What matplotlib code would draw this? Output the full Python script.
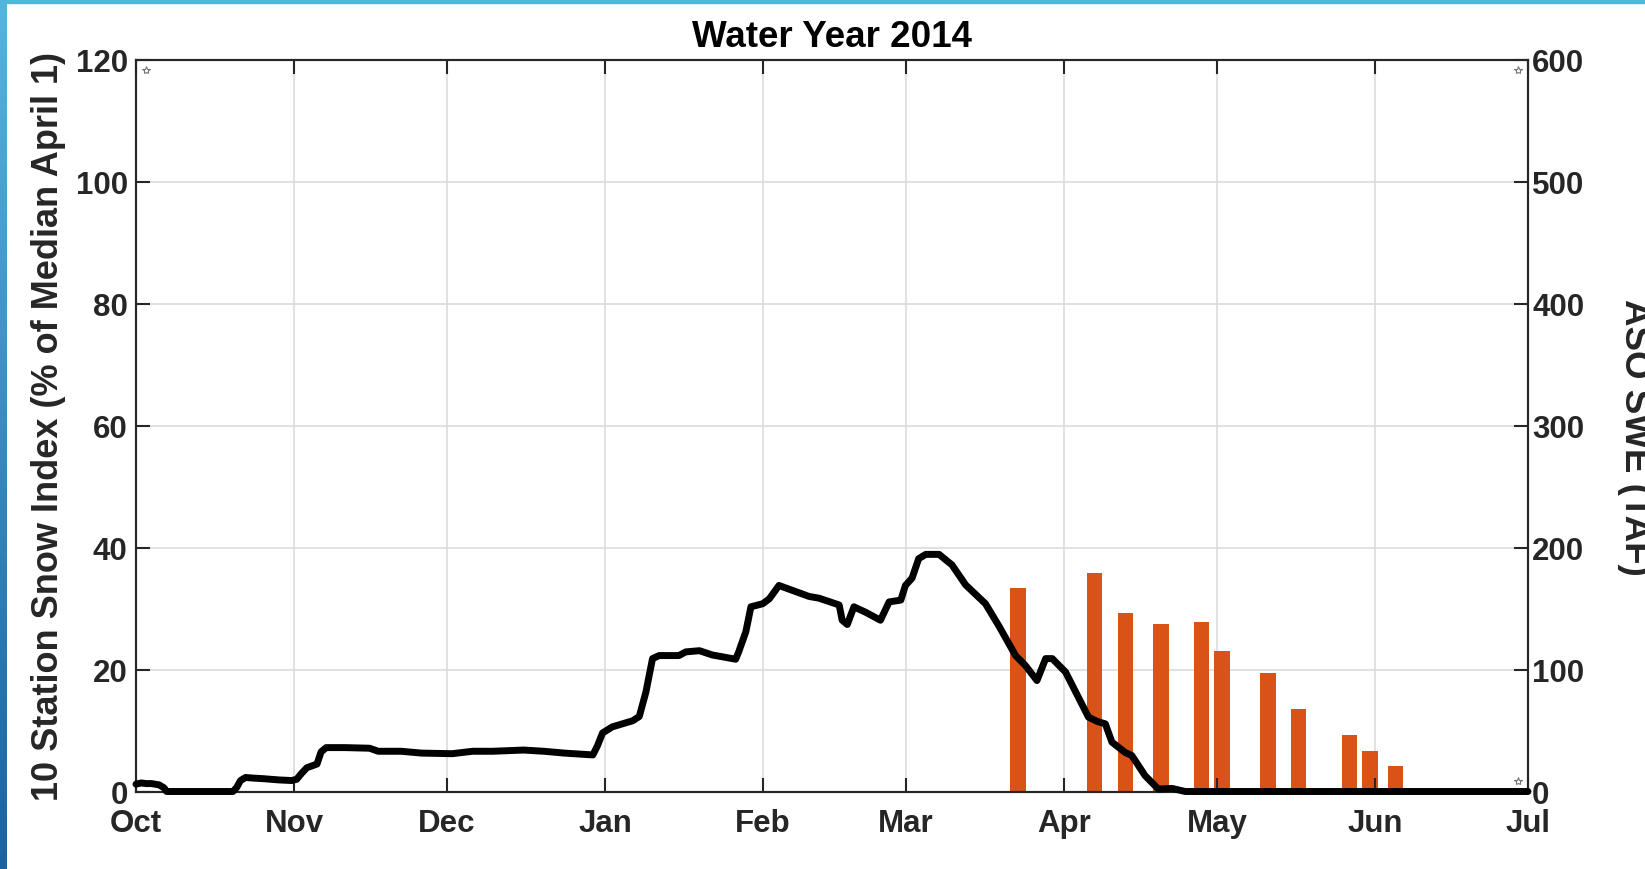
import numpy as np
import pandas as pd
import matplotlib
matplotlib.use("Agg")
import matplotlib.pyplot as plt

plt.rcParams["font.family"] = ["Liberation Sans", "DejaVu Sans"]
plt.rcParams["font.weight"] = "bold"
plt.rcParams["axes.labelweight"] = "bold"

# water year starts Oct 1 2013
WY_START = pd.Timestamp("2013-10-01")

# 10 station snow index (% of median April 1), day offset from Oct 1
idx_days = [0, 1, 2, 3, 4.5, 5.5, 6, 19, 19.7, 20.5, 21.5, 23, 25, 28, 30.5, 31.5,
            32.5, 33.5, 34.5, 35.5, 36.3, 37.3, 41, 45.8, 47.5, 52, 56, 62, 66, 70,
            76, 80, 84, 89.6, 90.5, 91.5, 93.4, 97.4, 98.7, 100, 101.3, 102.6, 106.5,
            107.8, 110.5, 113, 117.6, 118.2, 119.6, 120.6, 122.9, 124.2, 126.1, 127.4,
            132, 134, 137.9, 138.5, 139.5, 140.8, 143.1, 146, 147.7, 150, 150.9, 152.2,
            153.5, 154.9, 157.5, 159.4, 160, 162.7, 166.6, 169.2, 172.5, 174.4, 176.7,
            178.4, 179.7, 182.3, 186.8, 188.5, 190.1, 191.4, 194, 195.3, 197.9, 200.5,
            203.2, 205.8, 273]
idx_vals = [1.2, 1.4, 1.3, 1.3, 1.1, 0.6, 0, 0, 0.6, 1.8, 2.3, 2.2, 2.1, 1.9, 1.8, 2.0,
            3.0, 3.9, 4.2, 4.5, 6.5, 7.2, 7.2, 7.1, 6.6, 6.6, 6.3, 6.2, 6.6, 6.6,
            6.8, 6.6, 6.3, 6.0, 7.5, 9.6, 10.6, 11.6, 12.3, 16.3, 21.8, 22.3, 22.3,
            22.9, 23.1, 22.4, 21.7, 22.9, 26.2, 30.3, 30.8, 31.6, 33.8, 33.4,
            32.0, 31.7, 30.6, 28.1, 27.4, 30.3, 29.4, 28.1, 31.1, 31.4, 33.8, 35.0,
            38.2, 38.9, 38.9, 37.6, 37.2, 33.9, 30.8, 27.2, 22.3, 20.7, 18.2,
            21.8, 21.8, 19.6, 12.2, 11.5, 11.1, 8.1, 6.4, 5.9, 2.6, 0.4,
            0.5, 0, 0]

# ASO flights, SWE in TAF
aso_dates = ["2014-03-23", "2014-04-07", "2014-04-13", "2014-04-20", "2014-04-28",
             "2014-05-02", "2014-05-11", "2014-05-17", "2014-05-27", "2014-05-31",
             "2014-06-05"]
aso_swe = [167, 179, 146.5, 137, 139, 115, 97, 68, 46, 33, 20.7]

month_labels = ["Oct", "Nov", "Dec", "Jan", "Feb", "Mar", "Apr", "May", "Jun", "Jul"]

# small corner star markers (left axis units)
star_days = [2, 271, 271]
star_vals = [118.3, 118.3, 1.7]

TXT = "#262626"
ORANGE = "#D95319"
GRID = "#dcdcdc"

fig = plt.figure(figsize=(16.45, 8.70), dpi=100, facecolor="white")

# blue slide frame
fig.patches.append(plt.Rectangle((0, 1 - 4 / 870), 1, 4 / 870, transform=fig.transFigure,
                                 color="#52b6dc", zorder=0))
frame = fig.add_axes([0, 0, 7 / 1645, 1])
frame.imshow(np.linspace(0, 1, 200).reshape(-1, 1), aspect="auto",
             cmap=matplotlib.colors.LinearSegmentedColormap.from_list("fr", ["#52b6dc", "#1c62a0"]))
frame.axis("off")

rect = [136 / 1645, 1 - 792.5 / 870, (1528 - 136) / 1645, (792.5 - 61) / 870]
ax = fig.add_axes(rect)
ax2 = ax.twinx()
ax.set_zorder(2)
ax2.set_zorder(1)
ax.patch.set_visible(False)
ax2.patch.set_visible(True)
ax2.patch.set_facecolor("white")

x_line = WY_START + pd.to_timedelta(idx_days, unit="D")
x_bar = pd.to_datetime(aso_dates)

ax2.bar(x_bar, aso_swe, width=3, color=ORANGE, zorder=2)
ax.plot(x_line, idx_vals, color="black", lw=5, solid_joinstyle="round",
        solid_capstyle="round", clip_on=False, zorder=3)
ax.plot(WY_START + pd.to_timedelta(star_days, unit="D"), star_vals, ls="none", marker="*",
        ms=6, mfc="none", mec="#777777", mew=0.8)

month_ticks = pd.date_range("2013-10-01", "2014-07-01", freq="MS")
ax.set_xlim(month_ticks[0], month_ticks[-1])
ax.set_xticks(month_ticks)
ax.set_xticklabels(month_labels)
ax.set_ylim(0, 120)
ax.set_yticks(np.arange(0, 121, 20))
ax2.set_ylim(0, 600)
ax2.set_yticks(np.arange(0, 601, 100))

# grid lives on the back axes so bars sit above it
ax2.xaxis.set_visible(True)
ax2.grid(True, color=GRID, lw=1.2)
ax2.tick_params(axis="x", bottom=False, top=False, labelbottom=False, labeltop=False)

ax.tick_params(axis="x", direction="in", length=10, width=1.5, top=True, colors=TXT,
               labelsize=22.5, pad=12)
ax.tick_params(axis="y", direction="in", length=10, width=1.5, colors=TXT, labelsize=22.5, pad=6)
ax2.tick_params(axis="y", direction="in", length=10, width=1.5, colors=TXT, labelsize=22.5, pad=3)

for a in (ax, ax2):
    for sp in a.spines.values():
        sp.set_color(TXT)
        sp.set_linewidth(1.5)

ax.set_title("Water Year 2014", fontsize=26.5, fontweight="bold", color="black", pad=10)
ax.set_ylabel("10 Station Snow Index (% of Median April 1)", fontsize=26, fontweight="bold", color=TXT)
ax.yaxis.set_label_coords(-0.05, 0.5)
ax2.set_ylabel("ASO SWE (TAF)", fontsize=26.5, fontweight="bold", color=TXT, rotation=270, va="bottom")
ax2.yaxis.set_label_coords(1.064, 0.485)

fig.savefig("out.png", dpi=100, facecolor="white")
